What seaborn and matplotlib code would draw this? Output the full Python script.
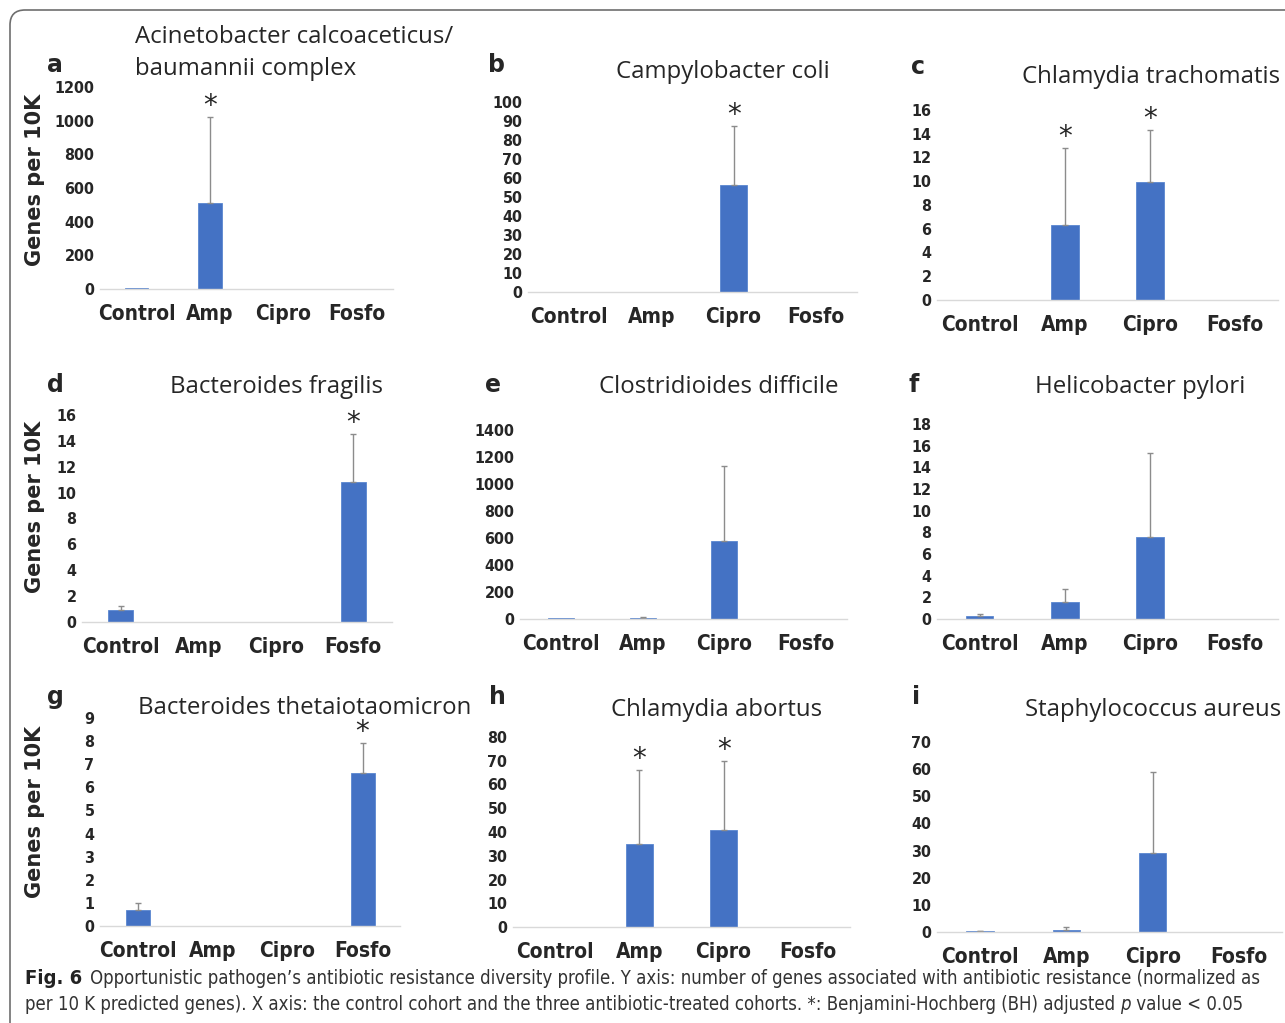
import os
import numpy as np
import matplotlib
matplotlib.use("Agg")
import matplotlib.pyplot as plt
import seaborn as sns
from matplotlib import font_manager as fm
from matplotlib.patches import FancyBboxPatch

sns.set_style("white")

# --- data ---
cohorts = ["Control", "Amp", "Cipro", "Fosfo"]

panel_letters = ["a", "b", "c", "d", "e", "f", "g", "h", "i"]
panel_titles = ["Acinetobacter calcoaceticus/\nbaumannii complex", "Campylobacter coli",
                "Chlamydia trachomatis", "Bacteroides fragilis", "Clostridioides difficile",
                "Helicobacter pylori", "Bacteroides thetaiotaomicron", "Chlamydia abortus",
                "Staphylococcus aureus"]

acineto_mean = [3, 511, 0, 0]
acineto_err = [0, 511, 0, 0]
campy_mean = [0.2, 0, 56.3, 0]
campy_err = [0, 0, 31, 0]
ctrach_mean = [0, 6.3, 9.9, 0]
ctrach_err = [0, 6.5, 4.4, 0]
bfrag_mean = [0.9, 0, 0, 10.8]
bfrag_err = [0.3, 0, 0, 3.7]
cdiff_mean = [4, 8, 578, 0]
cdiff_err = [0, 6, 555, 0]
hpylori_mean = [0.3, 1.6, 7.6, 0]
hpylori_err = [0.2, 1.2, 7.7, 0]
btheta_mean = [0.7, 0, 0, 6.6]
btheta_err = [0.3, 0, 0, 1.3]
cabort_mean = [0, 35, 41, 0]
cabort_err = [0, 31, 29, 0]
saureus_mean = [0.3, 0.8, 29, 0]
saureus_err = [0.1, 1.0, 30, 0]

means = [acineto_mean, campy_mean, ctrach_mean, bfrag_mean, cdiff_mean,
         hpylori_mean, btheta_mean, cabort_mean, saureus_mean]
errs = [acineto_err, campy_err, ctrach_err, bfrag_err, cdiff_err,
        hpylori_err, btheta_err, cabort_err, saureus_err]
y_max = [1200, 100, 16, 16, 1400, 18, 9, 80, 70]
y_step = [200, 10, 2, 2, 200, 2, 1, 10, 10]
significant = [["Amp"], ["Cipro"], ["Amp", "Cipro"], ["Fosfo"], [], [], ["Fosfo"], ["Amp", "Cipro"], []]


# a narrow face if one is installed, else Roboto (narrower than DejaVu)
def narrow_font(bold, italic=False):
    for f in fm.fontManager.ttflist:
        fn = os.path.basename(f.fname).lower()
        slanted = "italic" in fn or "oblique" in fn
        if ("condensed" in fn or "narrow" in fn) and ("bold" in fn) == bold \
                and slanted == italic and "light" not in fn:
            return fm.FontProperties(fname=f.fname)
    return fm.FontProperties(family="Roboto", weight="bold" if bold else "normal",
                             style="italic" if italic else "normal")


NB = narrow_font(True)
NR = narrow_font(False)
NI = narrow_font(False, True)


def fp(base, size):
    p = base.copy()
    p.set_size(size)
    return p


# --- layout (pixels) ---
W, H = 1285, 1023
fig = plt.figure(figsize=(W / 100, H / 100), dpi=100)

boxes = [(100, 393, 289, 87), (528, 857, 292, 102), (937, 1278, 300, 110),
         (82, 392, 622, 415), (520, 847, 619, 430), (937, 1278, 619, 424),
         (100, 400, 926, 718), (513, 850, 927, 737), (937, 1282, 932, 742)]
letter_pos = [(55, 65), (497, 65), (918, 67), (55, 385), (493, 385), (914, 385),
              (55, 697), (497, 697), (916, 697)]
title_pos = [(135, 53), (723, 72), (1151, 77), (276, 387), (719, 387), (1140, 387),
             (305, 708), (717, 710), (1153, 710)]

bar_blue = "#4472C4"

for k in range(9):
    x0, x1, yb, yt = boxes[k]
    ax = fig.add_axes([x0 / W, 1 - yb / H, (x1 - x0) / W, (yb - yt) / H])
    sns.barplot(x=cohorts, y=means[k], color=bar_blue, saturation=1, width=0.32,
                edgecolor="#5a86d0", linewidth=0.6, ax=ax)
    xs = np.arange(len(cohorts))
    e = np.array(errs[k])
    m = np.array(means[k])
    has = e > 0
    ax.errorbar(xs[has], m[has], yerr=[np.zeros(has.sum()), e[has]], fmt="none",
                ecolor="#8c8c8c", elinewidth=1, capsize=2.5, capthick=1)
    for name in significant[k]:
        i = cohorts.index(name)
        ax.annotate("*", (i, m[i] + e[i]), xytext=(0, 8), textcoords="offset points",
                    ha="center", va="center", fontsize=20)
    ticks = np.arange(0, y_max[k] + 0.01, y_step[k])
    ax.set_ylim(0, y_max[k])
    ax.set_xlim(-0.5, 3.5)
    ax.set_yticks(ticks)
    ax.set_yticklabels([f"{v:g}" for v in ticks], fontproperties=fp(NB, 11.5))
    ax.set_xticks(xs)
    ax.set_xticklabels(cohorts, fontproperties=fp(NB, 15))
    ax.tick_params(axis="both", length=0)
    ax.tick_params(axis="x", pad=11)
    ax.tick_params(axis="y", pad=4)
    ax.set_xlabel("")
    ax.set_ylabel("")
    ax.patch.set_alpha(0)
    for s in ["top", "right", "left"]:
        ax.spines[s].set_visible(False)
    ax.spines["bottom"].set_color("#d9d9d9")
    ax.spines["bottom"].set_linewidth(1)

    lx, ly = letter_pos[k]
    fig.text(lx / W, 1 - ly / H, panel_letters[k], fontsize=17, fontweight="bold",
             ha="center", va="center", family="DejaVu Sans")
    tx, ty = title_pos[k]
    if k == 0:
        fig.text(tx / W, 1 - ty / H, panel_titles[k], fontsize=17.3, family="Open Sans",
                 ha="left", va="center", linespacing=1.4)
    else:
        fig.text(tx / W, 1 - ty / H, panel_titles[k], fontsize=17.3, family="Open Sans",
                 ha="center", va="center")

for yc in [180, 507, 812]:
    fig.text(35 / W, 1 - yc / H, "Genes per 10K", rotation=90, fontsize=15,
             fontweight="bold", ha="center", va="center", family="DejaVu Sans")

# rounded frame running off the right and bottom edges
frame = FancyBboxPatch((0.1, -0.5), 13.5, (H - 10) / 100 + 0.5,
                       boxstyle="round,pad=0,rounding_size=0.15",
                       transform=fig.dpi_scale_trans, fill=False,
                       edgecolor="#6e6e6e", linewidth=1.2)
fig.patches.append(frame)

# caption, scaled so each line spans the width it has in the figure
renderer = fig.canvas.get_renderer()
cap1 = ("Opportunistic pathogen\u2019s antibiotic resistance diversity profile. Y axis: number of genes "
        "associated with antibiotic resistance (normalized as")
cap2a = ("per 10 K predicted genes). X axis: the control cohort and the three antibiotic-treated "
         "cohorts. *: Benjamini-Hochberg (BH) adjusted ")
cap2b = " value < 0.05"

t0 = fig.text(25 / W, 1 - 978 / H, "Fig. 6", fontproperties=fp(NB, 14.5), va="center",
              color="#222222")
bb = t0.get_window_extent(renderer)
t1 = fig.text((bb.x1 + 8) / W, 1 - 978 / H, cap1, fontproperties=fp(NR, 12), va="center",
              color="#333333")
w1 = t1.get_window_extent(renderer).width
cap_size = 12 * (1260 - bb.x1 - 8) / w1
t1.set_fontproperties(fp(NR, cap_size))

t2 = fig.text(25 / W, 1 - 1005 / H, cap2a, fontproperties=fp(NR, cap_size), va="center",
              color="#333333")
bb2 = t2.get_window_extent(renderer)
t3 = fig.text(bb2.x1 / W, 1 - 1005 / H, "p", fontproperties=fp(NI, cap_size),
              va="center", color="#333333")
bb3 = t3.get_window_extent(renderer)
fig.text(bb3.x1 / W, 1 - 1005 / H, cap2b, fontproperties=fp(NR, cap_size), va="center",
         color="#333333")

fig.savefig("out.png", dpi=100)
